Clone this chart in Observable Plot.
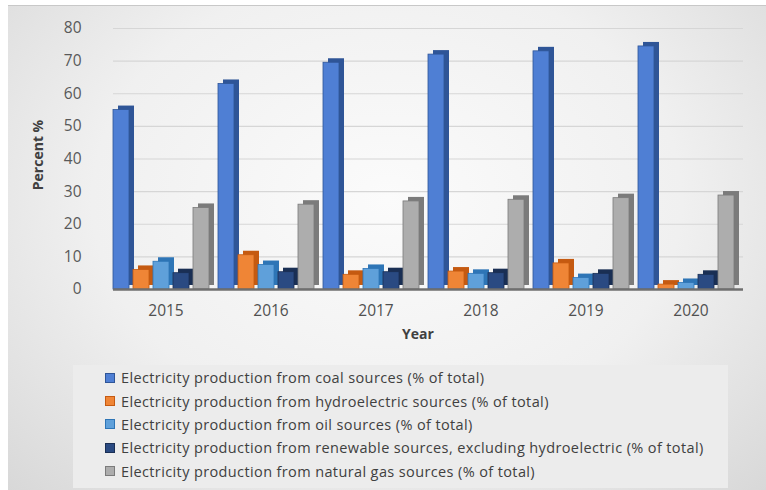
<!DOCTYPE html>
<html><head><meta charset="utf-8">
<script src="https://cdn.jsdelivr.net/npm/d3@7"></script>
<script src="https://cdn.jsdelivr.net/npm/@observablehq/plot@0.6"></script>
<style>
html,body{margin:0;padding:0;background:#fff;}
#wrap{position:relative;width:766px;height:490px;overflow:hidden;font-family:"Open Sans",sans-serif;}
#frame{position:absolute;left:8px;top:5px;right:0;bottom:0;border-top:1px solid #c8c8c8;
 background:radial-gradient(ellipse at 50% 40%, #fbfbfb 0%, #f0f0f0 55%, #d8d8d8 100%);}
#chart{position:absolute;left:0;top:0;}
#ylab{position:absolute;left:37px;top:155px;transform:translate(-50%,-50%) rotate(-90deg);font-size:14px;font-weight:bold;color:#404040;white-space:nowrap;}
#xlab{position:absolute;left:418px;top:333px;transform:translate(-50%,-50%);font-size:14px;font-weight:bold;color:#404040;}
#legend{position:absolute;left:73px;top:365px;width:655px;height:123px;background:#ececec;box-sizing:border-box;padding-top:1px;}
.li{display:flex;align-items:center;height:23.4px;margin-left:32px;font-size:14.5px;letter-spacing:0.38px;color:#404040;white-space:nowrap;}
.sw{width:10px;height:10px;margin-right:6px;box-sizing:border-box;border:1px solid;}
</style></head>
<body>
<div id="wrap"><div id="frame"></div><div id="chart"></div>
<div id="ylab">Percent %</div><div id="xlab">Year</div><div id="legend"></div></div>
<script>
const years = ["2015","2016","2017","2018","2019","2020"];
const seriesNames = [
 "Electricity production from coal sources (% of total)",
 "Electricity production from hydroelectric sources (% of total)",
 "Electricity production from oil sources (% of total)",
 "Electricity production from renewable sources, excluding hydroelectric (% of total)",
 "Electricity production from natural gas sources (% of total)"
];
const coal  = [55, 63, 69.5, 72, 73, 74.5];
const hydro = [6, 10.5, 4.5, 5.5, 8, 1.5];
const oil   = [8.5, 7.5, 6.3, 4.8, 3.5, 2];
const renew = [5, 5.3, 5.3, 5, 4.8, 4.5];
const gas   = [25, 26, 27, 27.5, 28, 28.8];
const yTicks = [0,10,20,30,40,50,60,70,80];
const frontColors = ["#4f7fd4","#ef8536","#5fa0da","#2a4a82","#adadad"];
const sideColors  = ["#2f5597","#c55a11","#2e75b6","#1a2f54","#7b7b7b"];

const seriesValues = [coal, hydro, oil, renew, gas];
const data = [];
years.forEach((yr, i) => seriesValues.forEach((vals, s) => data.push({year: yr, series: seriesNames[s], value: vals[i]})));

const chart = Plot.plot({
  width: 766, height: 340,
  marginLeft: 112, marginRight: 22, marginTop: 28, marginBottom: 51,
  style: {background: "transparent", fontFamily: "Open Sans, sans-serif"},
  fx: {domain: years, padding: 0, tickSize: 0, tickPadding: 15, label: null},
  x: {domain: seriesNames, axis: null, paddingInner: 0, paddingOuter: 0.03, align: 0},
  y: {domain: [0, 80], ticks: yTicks, tickSize: 0, tickPadding: 32, label: null},
  color: {domain: seriesNames, range: frontColors},
  marks: [
    Plot.ruleY(yTicks.slice(1), {stroke: "#d6d6d6", strokeWidth: 1.2}),
    Plot.barY(data, {fx: "year", x: "series", y: "value", fill: d => sideColors[seriesNames.indexOf(d.series)], insetRight: 4, dx: 5, dy: -4}),
    Plot.barY(data, {fx: "year", x: "series", y: "value", fill: "series", stroke: d => sideColors[seriesNames.indexOf(d.series)], strokeWidth: 0.8, insetRight: 4}),
    Plot.ruleY([0], {stroke: "#6f6f6f", strokeWidth: 2.5})
  ]
});
chart.querySelectorAll('[aria-label="y-axis tick label"] text, [aria-label="y-axis"] text').forEach(t => {t.setAttribute("font-size","15.5"); t.setAttribute("fill","#595959");});
chart.querySelectorAll('[aria-label="fx-axis tick label"] text, [aria-label="fx-axis"] text').forEach(t => {t.setAttribute("font-size","15.5"); t.setAttribute("fill","#505050");});
document.getElementById("chart").appendChild(chart);

const lg = document.getElementById("legend");
seriesNames.forEach((name, s) => {
  const row = document.createElement("div"); row.className = "li";
  const sw = document.createElement("span"); sw.className = "sw";
  sw.style.background = frontColors[s]; sw.style.borderColor = sideColors[s];
  row.appendChild(sw); row.appendChild(document.createTextNode(name));
  lg.appendChild(row);
});
</script>
</body></html>
